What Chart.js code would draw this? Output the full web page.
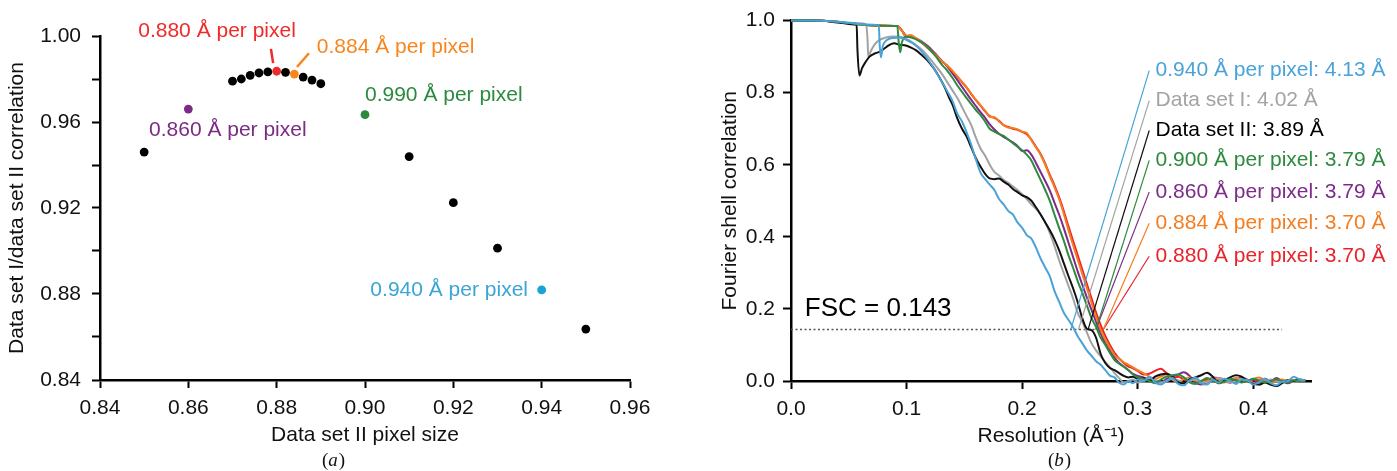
<!DOCTYPE html>
<html>
<head>
<meta charset="utf-8">
<script src="https://cdn.jsdelivr.net/npm/chart.js@4.4.1/dist/chart.umd.min.js"></script>
<style>
  html, body { margin: 0; padding: 0; background: #fff; }
  #wrap { position: relative; width: 1397px; height: 471px; overflow: hidden; }
  canvas { position: absolute; top: 0; }
  #chartA { left: 0; }
  #chartB { left: 690px; }
</style>
</head>
<body>
<div id="wrap">
  <canvas id="chartA" width="690" height="471"></canvas>
  <canvas id="chartB" width="707" height="471"></canvas>
</div>
<script>
// ---- panel (a): pixel size scan ----
const pixelSize = [0.85, 0.86, 0.870, 0.872, 0.874, 0.876, 0.878, 0.880, 0.882, 0.884, 0.886, 0.888, 0.890, 0.90, 0.91, 0.92, 0.93, 0.94, 0.95];
const correlation = [0.946, 0.966, 0.979, 0.980, 0.9817, 0.9828, 0.9833, 0.9836, 0.9831, 0.9823, 0.9809, 0.9795, 0.9778, 0.9634, 0.9439, 0.9225, 0.9013, 0.8819, 0.8637];
const xTicksA = [0.84, 0.86, 0.88, 0.90, 0.92, 0.94, 0.96];
const yTicksA = [0.84, 0.86, 0.88, 0.90, 0.92, 0.94, 0.96, 0.98, 1.00];
const yLabelsA = [0.84, 0.88, 0.92, 0.96, 1.00];

// ---- panel (b): FSC curves ----
const xTicksB = [0, 0.1, 0.2, 0.3, 0.4];
const yTicksB = [0, 0.2, 0.4, 0.6, 0.8, 1.0];
const fscThreshold = 0.143;

// shared resolution grid for the descent and the noisy tail
const sharedRes = [0.14, 0.144, 0.148, 0.152, 0.156, 0.16, 0.164, 0.168, 0.172, 0.176, 0.18, 0.184, 0.188, 0.192, 0.196, 0.2, 0.204, 0.208, 0.212, 0.216, 0.22, 0.224, 0.228, 0.232, 0.236, 0.24, 0.244, 0.248, 0.252, 0.256, 0.26, 0.264, 0.268, 0.272, 0.276, 0.28, 0.284, 0.288, 0.292, 0.296, 0.3, 0.305, 0.31, 0.315, 0.32, 0.325, 0.33, 0.335, 0.34, 0.345, 0.35, 0.355, 0.36, 0.365, 0.37, 0.375, 0.38, 0.385, 0.39, 0.395, 0.4, 0.405, 0.41, 0.415, 0.42, 0.425, 0.43, 0.435, 0.44, 0.445];

const blueHeadRes = [0, 0.02, 0.035, 0.05, 0.065, 0.076, 0.0768, 0.0778, 0.0795, 0.083, 0.088, 0.094, 0.1, 0.105, 0.11, 0.115, 0.12, 0.125, 0.13, 0.135];
const blueFsc = [1, 1, 0.998, 0.994, 0.989, 0.986, 0.93, 0.898, 0.93, 0.946, 0.952, 0.953, 0.946, 0.938, 0.925, 0.907, 0.885, 0.86, 0.833, 0.805,
  0.775, 0.741, 0.72, 0.69, 0.655, 0.615, 0.578, 0.56, 0.545, 0.53, 0.505, 0.49, 0.472, 0.462, 0.44, 0.425, 0.405, 0.395, 0.37, 0.34, 0.315, 0.29, 0.25, 0.22, 0.19, 0.17, 0.15, 0.125, 0.105, 0.085, 0.07, 0.055, 0.045, 0.03, 0.015, 0.01, -0.005, -0.01, 0.0, -0.006, 0.004,
  -0.002, 0.012, -0.004, -0.01, 0.0, 0.008, -0.008, -0.012, 0.002, 0.01, -0.006, -0.01, 0.004, -0.004, 0.006, 0.0, -0.008, 0.004, 0.002, -0.01, -0.004, 0.006, -0.006, -0.012, -0.002, 0.0, 0.012, 0.004, 0.002];

const grayHeadRes = [0, 0.02, 0.035, 0.05, 0.065, 0.0662, 0.0669, 0.069, 0.072, 0.076, 0.082, 0.088, 0.094, 0.1, 0.107, 0.114, 0.12, 0.125, 0.13, 0.135];
const grayFsc = [1, 1, 0.998, 0.994, 0.99, 0.95, 0.898, 0.915, 0.932, 0.945, 0.953, 0.956, 0.955, 0.949, 0.935, 0.917, 0.895, 0.875, 0.855, 0.83,
  0.805, 0.785, 0.76, 0.735, 0.71, 0.675, 0.645, 0.625, 0.6, 0.58, 0.57, 0.558, 0.55, 0.54, 0.53, 0.518, 0.505, 0.49, 0.478, 0.462, 0.44, 0.41, 0.375, 0.335, 0.3, 0.265, 0.23, 0.19, 0.165, 0.135, 0.105, 0.085, 0.068, 0.052, 0.038, 0.022, 0.008, -0.004, 0.0, 0.004, -0.004,
  0.0, 0.008, 0.004, -0.004, 0.0, 0.006, 0.002, -0.006, 0.0, 0.004, 0.0, -0.004, 0.004, 0.008, 0.002, -0.004, 0.0, 0.006, 0.002, -0.006, -0.01, -0.004, 0.004, 0.0, -0.004, 0.002, -0.002, 0.0, 0.002];

const blackHeadRes = [0, 0.02, 0.035, 0.045, 0.052, 0.0568, 0.0575, 0.0592, 0.0615, 0.0645, 0.068, 0.072, 0.0778, 0.083, 0.0893, 0.094, 0.0994, 0.104, 0.108, 0.113, 0.118, 0.123, 0.128, 0.133, 0.137];
const blackFsc = [1, 1, 0.997, 0.993, 0.99, 0.988, 0.92, 0.848, 0.868, 0.885, 0.9, 0.908, 0.915, 0.928, 0.937, 0.933, 0.931, 0.925, 0.918, 0.905, 0.89, 0.87, 0.845, 0.815, 0.785,
  0.765, 0.728, 0.70, 0.678, 0.648, 0.618, 0.595, 0.575, 0.562, 0.56, 0.562, 0.553, 0.545, 0.533, 0.524, 0.515, 0.51, 0.5, 0.482, 0.462, 0.44, 0.418, 0.393, 0.363, 0.328, 0.292, 0.258, 0.22, 0.175, 0.145, 0.141, 0.12, 0.075, 0.05, 0.036, 0.03, 0.022, 0.014, 0.01, 0.012, 0.006,
  0.008, 0.0, 0.012, 0.018, 0.02, 0.012, -0.004, -0.006, 0.005, 0.01, 0.016, 0.023, 0.012, -0.006, 0.002, 0.01, 0.016, 0.012, 0.0, -0.008, -0.01, -0.004, -0.01, -0.014, -0.006, 0.002, 0.0, 0.004, 0.002];

const greenHeadRes = [0, 0.02, 0.035, 0.05, 0.065, 0.08, 0.092, 0.0932, 0.0945, 0.096, 0.0994, 0.104, 0.11, 0.115, 0.12, 0.125, 0.13, 0.135];
const greenFsc = [1, 1, 0.998, 0.993, 0.988, 0.986, 0.985, 0.94, 0.912, 0.94, 0.955, 0.953, 0.945, 0.935, 0.92, 0.902, 0.88, 0.862,
  0.84, 0.82, 0.802, 0.785, 0.768, 0.752, 0.738, 0.72, 0.70, 0.692, 0.685, 0.68, 0.67, 0.66, 0.65, 0.64, 0.628, 0.612, 0.585, 0.558, 0.53, 0.5, 0.462, 0.425, 0.39, 0.35, 0.315, 0.278, 0.245, 0.21, 0.175, 0.15, 0.12, 0.1, 0.078, 0.058, 0.048, 0.04, 0.03, 0.018, 0.01,
  0.006, 0.0, -0.006, 0.004, 0.012, 0.016, 0.018, 0.01, -0.004, -0.008, 0.0, 0.008, 0.002, -0.006, -0.002, 0.006, 0.002, -0.004, 0.0, 0.006, 0.002, -0.004, 0.0, 0.004, 0.0, -0.004, 0.002, 0.0, 0.002];

const purpleHeadRes = [0, 0.02, 0.035, 0.05, 0.065, 0.08, 0.092, 0.096, 0.1, 0.104, 0.11, 0.115, 0.12, 0.125, 0.13, 0.135];
const purpleFsc = [1, 1, 0.998, 0.993, 0.988, 0.986, 0.985, 0.972, 0.957, 0.955, 0.948, 0.938, 0.925, 0.908, 0.89, 0.874,
  0.852, 0.835, 0.816, 0.798, 0.78, 0.763, 0.746, 0.73, 0.712, 0.698, 0.686, 0.677, 0.67, 0.662, 0.652, 0.638, 0.64, 0.628, 0.605, 0.58, 0.555, 0.528, 0.495, 0.462, 0.425, 0.385, 0.345, 0.305, 0.268, 0.232, 0.198, 0.165, 0.132, 0.105, 0.085, 0.065, 0.05, 0.04, 0.03, 0.02, 0.014,
  0.01, 0.004, 0.0, -0.004, 0.006, 0.012, 0.018, 0.024, 0.014, -0.004, -0.01, -0.004, 0.01, 0.008, 0.0, -0.004, 0.004, 0.01, 0.004, -0.004, 0.0, 0.006, 0.0, 0.008, 0.0, -0.006, 0.0, 0.002, 0.0];

const orangeHeadRes = [0, 0.02, 0.035, 0.05, 0.065, 0.08, 0.092, 0.096, 0.0994, 0.103, 0.108, 0.115, 0.12, 0.125, 0.13, 0.135];
const orangeFsc = [1, 1, 0.998, 0.993, 0.988, 0.986, 0.985, 0.972, 0.958, 0.96, 0.952, 0.935, 0.92, 0.905, 0.889, 0.876,
  0.86, 0.845, 0.83, 0.815, 0.797, 0.78, 0.765, 0.75, 0.733, 0.732, 0.72, 0.71, 0.703, 0.702, 0.698, 0.692, 0.688, 0.668, 0.648, 0.628, 0.6, 0.568, 0.538, 0.505, 0.465, 0.42, 0.378, 0.338, 0.298, 0.258, 0.218, 0.178, 0.142, 0.115, 0.092, 0.072, 0.062, 0.052, 0.045, 0.038, 0.03,
  0.022, 0.012, 0.006, 0.012, 0.018, 0.004, -0.004, 0.006, 0.01, 0.002, -0.006, 0.0, 0.008, 0.004, -0.004, 0.002, 0.008, 0.004, -0.002, 0.006, 0.01, 0.002, -0.006, 0.0, 0.004, 0.0, 0.002, 0.0, 0.002];

const redHeadRes = [0, 0.02, 0.035, 0.05, 0.065, 0.08, 0.092, 0.096, 0.0994, 0.103, 0.108, 0.115, 0.12, 0.125, 0.13, 0.135];
const redFsc = [1, 1, 0.998, 0.993, 0.988, 0.986, 0.985, 0.972, 0.956, 0.958, 0.95, 0.934, 0.919, 0.904, 0.888, 0.875,
  0.858, 0.844, 0.829, 0.814, 0.796, 0.779, 0.764, 0.748, 0.735, 0.73, 0.722, 0.71, 0.705, 0.7, 0.697, 0.691, 0.685, 0.67, 0.65, 0.63, 0.603, 0.572, 0.543, 0.51, 0.472, 0.43, 0.39, 0.35, 0.31, 0.27, 0.23, 0.19, 0.155, 0.125, 0.1, 0.078, 0.062, 0.05, 0.04, 0.035, 0.028,
  0.018, 0.02, 0.028, 0.034, 0.022, 0.008, 0.012, 0.004, 0.0, 0.006, -0.002, 0.004, 0.0, 0.008, 0.004, -0.004, 0.002, 0.006, 0.0, 0.004, -0.004, 0.002, 0.0, 0.004, -0.002, 0.0, 0.002, 0.0, 0.0];

// resolution at FSC = 0.143 for each curve (legend order)
const curveNames = ['0.940 Å per pixel', 'Data set I', 'Data set II', '0.900 Å per pixel', '0.860 Å per pixel', '0.884 Å per pixel', '0.880 Å per pixel'];
const curveResolution = [4.13, 4.02, 3.89, 3.79, 3.79, 3.70, 3.70];

// ---- styles ----
const FONT = '"Liberation Sans", Arial, Helvetica, sans-serif';
const colA = { red: '#ee2a2a', orange: '#f7861f', green: '#2b8a3e', purple: '#7b2a86', cyan: '#19a3d6', black: '#000000' };
const pointColour = { '0.860': colA.purple, '0.880': colA.red, '0.884': colA.orange, '0.900': colA.green, '0.940': colA.cyan };
const curveColours = ['#4aa3d8', '#a3a3a3', '#111111', '#2d8a3f', '#7d2b8a', '#f47d20', '#e8232a'];
const labelYB = [0.861, 0.778, 0.695, 0.612, 0.524, 0.438, 0.346];

function zip(xs, ys) {
    const out = [];
    for (let i = 0; i < Math.min(xs.length, ys.length); i++) out.push({ x: xs[i], y: ys[i] });
    return out;
}

function axis(min, max, ticks, fmt, title, extra) {
    const horizontal = extra.horizontal;
    delete extra.horizontal;
    return Object.assign({
        type: 'linear',
        min: min,
        max: max,
        afterBuildTicks: s => { s.ticks = ticks.map(v => ({ value: v })); },
        ticks: { autoSkip: false, maxRotation: 0, color: '#111', padding: horizontal ? 8 : 11, font: { family: FONT, size: 21 }, callback: fmt },
        grid: { drawOnChartArea: false, drawTicks: true, tickLength: 8, tickWidth: 2, tickColor: '#000' },
        border: { display: true, color: '#000', width: 2.5 },
        title: { display: true, text: title, color: '#111', font: { family: FONT, size: 21 } }
    }, extra);
}

// text notes drawn at data coordinates, plus the panel caption
function notesPlugin(items, caption, capX) {
    return {
        id: 'notes',
        afterDraw(chart) {
            const ctx = chart.ctx;
            const xs = chart.scales.x, ys = chart.scales.y;
            ctx.save();
            items.forEach(it => {
                ctx.font = it.size + 'px ' + FONT;
                ctx.fillStyle = it.color;
                ctx.textAlign = it.align || 'left';
                ctx.textBaseline = 'middle';
                ctx.fillText(it.text, xs.getPixelForValue(it.x), ys.getPixelForValue(it.y));
            });
            // caption like "(a)" with italic letter
            ctx.fillStyle = '#111';
            ctx.textBaseline = 'middle';
            ctx.textAlign = 'left';
            const up = '19px "Liberation Serif", "Times New Roman", serif';
            const it = 'italic 19px "Liberation Serif", "Times New Roman", serif';
            ctx.font = up; const w1 = ctx.measureText('(').width;
            ctx.font = it; const w2 = ctx.measureText(caption).width;
            ctx.font = up; const w3 = ctx.measureText(')').width;
            let x = capX - (w1 + w2 + w3) / 2;
            const y = 461;
            ctx.font = up; ctx.fillText('(', x, y); x += w1;
            ctx.font = it; ctx.fillText(caption, x, y); x += w2 + 1;
            ctx.font = up; ctx.fillText(')', x, y);
            ctx.restore();
        }
    };
}

// ---------- chart (a) ----------
const dotColours = pixelSize.map(p => pointColour[p.toFixed(3)] || colA.black);

const notesA = [
    { text: '0.880 Å per pixel', color: colA.red, x: 0.8665, y: 1.0023, align: 'center', size: 21 },
    { text: '0.884 Å per pixel', color: colA.orange, x: 0.8891, y: 0.9949, size: 21 },
    { text: '0.990 Å per pixel', color: colA.green, x: 0.9, y: 0.9726, size: 21 },
    { text: '0.860 Å per pixel', color: colA.purple, x: 0.8511, y: 0.9563, size: 21 },
    { text: '0.940 Å per pixel', color: '#3aa5d6', x: 0.9369, y: 0.8819, align: 'right', size: 21 }
];

new Chart(document.getElementById('chartA'), {
    type: 'scatter',
    data: {
        datasets: [
            { data: [{ x: 0.8787, y: 0.994 }, { x: 0.8792, y: 0.9874 }], showLine: true, borderColor: colA.red, borderWidth: 2.5, pointRadius: 0 },
            { data: [{ x: 0.8873, y: 0.992 }, { x: 0.8846, y: 0.9856 }], showLine: true, borderColor: colA.orange, borderWidth: 2.5, pointRadius: 0 },
            {
                data: zip(pixelSize, correlation),
                backgroundColor: dotColours,
                borderColor: dotColours,
                pointRadius: 4.4,
                borderWidth: 0
            }
        ]
    },
    options: {
        responsive: false,
        animation: false,
        devicePixelRatio: 1,
        layout: { padding: { left: 0, right: 60, top: 36, bottom: 0 } },
        plugins: { legend: { display: false }, tooltip: { enabled: false } },
        scales: {
            x: axis(0.84, 0.96, xTicksA, v => v.toFixed(2), 'Data set II pixel size', {
                horizontal: true,
                afterFit: s => { s.height = 91; }
            }),
            y: axis(0.84, 1.0, yTicksA, v => (yLabelsA.some(l => Math.abs(l - v) < 1e-6) ? v.toFixed(2) : ''), 'Data set I/data set II correlation', {
                afterFit: s => { s.width = 100; }
            })
        }
    },
    plugins: [notesPlugin(notesA, 'a', 333)]
});
// axis title paddings
(function () {
    const c = Chart.getChart('chartA');
    c.options.scales.x.title.padding = { top: 4, bottom: 23 };
    c.options.scales.y.title.padding = { top: 5, bottom: 4 };
    c.update();
})();

// ---------- chart (b) ----------
const curves = [
    [blueHeadRes, blueFsc],
    [grayHeadRes, grayFsc],
    [blackHeadRes, blackFsc],
    [greenHeadRes, greenFsc],
    [purpleHeadRes, purpleFsc],
    [orangeHeadRes, orangeFsc],
    [redHeadRes, redFsc]
];
// draw order: first dataset ends on top
const drawOrder = [0, 3, 2, 1, 5, 6, 4];

const leaderSets = curveResolution.map((r, i) => ({
    data: [{ x: 1 / r, y: fscThreshold }, { x: 0.310, y: labelYB[i] }],
    borderColor: curveColours[i],
    borderWidth: 1.2,
    pointRadius: 0,
    tension: 0
}));

const curveSets = drawOrder.map(i => ({
    data: zip(curves[i][0].concat(sharedRes), curves[i][1]),
    borderColor: curveColours[i],
    borderWidth: 2,
    pointRadius: 0,
    cubicInterpolationMode: 'monotone',
    clip: 8
}));

const thresholdSet = {
    data: [{ x: 0, y: fscThreshold }, { x: 0.425, y: fscThreshold }],
    borderColor: '#555',
    borderWidth: 1.6,
    borderDash: [2, 2.5],
    pointRadius: 0
};

const notesB = curveNames.map((n, i) => ({
    text: n + ': ' + curveResolution[i].toFixed(2) + ' Å',
    color: curveColours[i] === '#111111' ? '#000' : curveColours[i],
    x: 0.3155,
    y: labelYB[i],
    size: 21
}));
notesB.push({ text: 'FSC = ' + fscThreshold, color: '#000', x: 0.012, y: 0.2, size: 26 });

new Chart(document.getElementById('chartB'), {
    type: 'line',
    data: { datasets: leaderSets.concat(curveSets, [thresholdSet]) },
    options: {
        responsive: false,
        animation: false,
        devicePixelRatio: 1,
        layout: { padding: { left: 0, right: 86, top: 20, bottom: 0 } },
        plugins: { legend: { display: false }, tooltip: { enabled: false } },
        scales: {
            x: axis(0, 0.45, xTicksB, v => v.toFixed(1), 'Resolution (Å⁻¹)', {
                horizontal: true,
                afterFit: s => { s.height = 90; }
            }),
            y: axis(0, 1.0, yTicksB, v => v.toFixed(1), 'Fourier shell correlation', {
                afterFit: s => { s.width = 101; }
            })
        }
    },
    plugins: [notesPlugin(notesB, 'b', 369)]
});
(function () {
    const c = Chart.getChart('chartB');
    c.options.scales.x.title.padding = { top: 4, bottom: 22 };
    c.options.scales.y.title.padding = { top: 28, bottom: 4 };
    c.options.scales.y.ticks.padding = 8;
    c.update();
})();
</script>
</body>
</html>
